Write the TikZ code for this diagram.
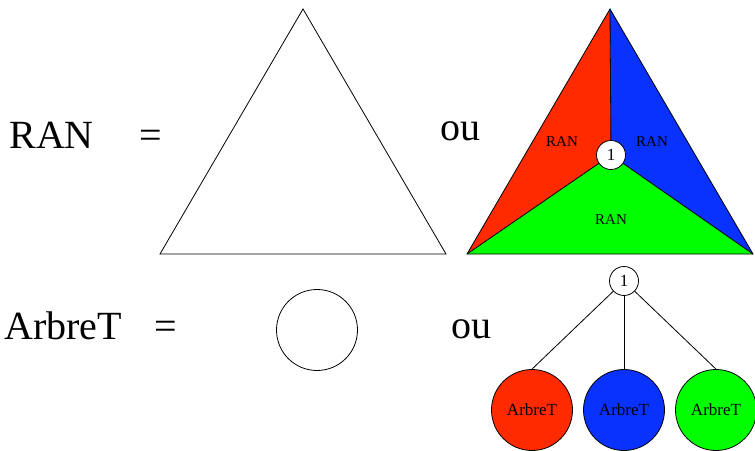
\documentclass[tikz,border=0pt]{standalone}
\usepackage{fontspec}
\setmainfont{Liberation Serif}
\definecolor{cred}{HTML}{FF2A00}
\definecolor{cblue}{HTML}{0A32FF}
\definecolor{cgreen}{HTML}{00FF00}
\begin{document}
\begin{tikzpicture}[x=1pt,y=-1pt,line width=0.8pt,
  big/.style={font=\fontsize{40}{40}\selectfont, inner sep=0pt, anchor=base},
  small/.style={font=\fontsize{15}{15}\selectfont, inner sep=0pt},
  numnode/.style={circle, draw, fill=white, minimum size=29pt, inner sep=0pt, font=\fontsize{17}{17}\selectfont},
  sub/.style={circle, draw, minimum size=81pt, inner sep=0pt, font=\fontsize{17}{17}\selectfont}]
\useasboundingbox (0,0) rectangle (755,450);
% labels
\node[big, anchor=base west] (ran) at (9,148) {RAN};
\node[big] (eq1) at (151,148) {=};
\node[big, anchor=base west] (arb) at (4,339) {ArbreT};
\node[big] (eq2) at (166,339) {=};
\node[big] (ou1) at (460,140) {ou};
\node[big] (ou2) at (471,338) {ou};
% white triangle
\draw (303,9) -- (160,254) -- (446,254) -- cycle;
% white circle
\node[sub] (empty) at (317,330) {};
% colored triangle
\coordinate (A) at (610,9);
\coordinate (BL) at (467,254);
\coordinate (BR) at (753,254);
\coordinate (C) at (611,155);
\fill[cred] (A) -- (C) -- (BL) -- cycle;
\fill[cblue] (A) -- (C) -- (BR) -- cycle;
\fill[cgreen] (BL) -- (C) -- (BR) -- cycle;
\node[numnode] (one) at (C) {1};
\draw (A) -- (one);
\draw (BL) -- (one);
\draw (BR) -- (one);
\draw (A) -- (BL) -- (BR) -- cycle;
\node[small] (r1) at (562,142) {RAN};
\node[small] (r2) at (652,142) {RAN};
\node[small] (r3) at (611,220) {RAN};
% tree
\node[numnode] (root) at (624,281) {1};
\node[sub, fill=cred] (c1) at (532,410) {ArbreT};
\node[sub, fill=cblue] (c2) at (624,410) {ArbreT};
\node[sub, fill=cgreen] (c3) at (716,410) {ArbreT};
\draw (root) -- (c1.north);
\draw (root) -- (c2.north);
\draw (root) -- (c3.north);
\end{tikzpicture}
\end{document}
